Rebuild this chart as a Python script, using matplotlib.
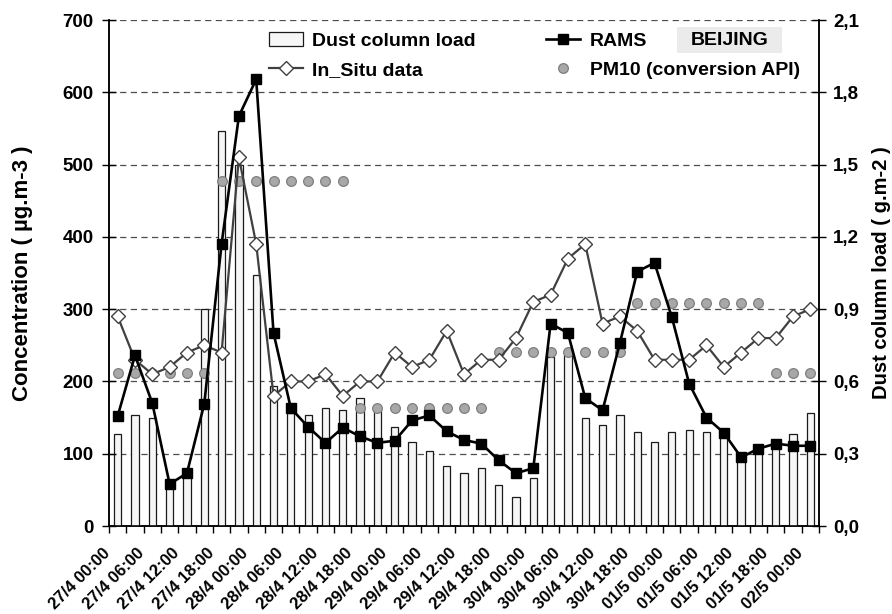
import numpy as np
import matplotlib
matplotlib.use("Agg")
import matplotlib.pyplot as plt
import matplotlib.transforms as mtransforms
from matplotlib.patches import Rectangle
from matplotlib.ticker import FuncFormatter, MultipleLocator

plt.rcParams['font.family'] = ['Liberation Sans', 'DejaVu Sans']
plt.rcParams['font.weight'] = 'bold'

# 3-hourly time steps, 27/4 00:00 -> 02/5 00:00
times = ["27/4 00:00", "27/4 03:00", "27/4 06:00", "27/4 09:00", "27/4 12:00", "27/4 15:00",
         "27/4 18:00", "27/4 21:00", "28/4 00:00", "28/4 03:00", "28/4 06:00", "28/4 09:00",
         "28/4 12:00", "28/4 15:00", "28/4 18:00", "28/4 21:00", "29/4 00:00", "29/4 03:00",
         "29/4 06:00", "29/4 09:00", "29/4 12:00", "29/4 15:00", "29/4 18:00", "29/4 21:00",
         "30/4 00:00", "30/4 03:00", "30/4 06:00", "30/4 09:00", "30/4 12:00", "30/4 15:00",
         "30/4 18:00", "30/4 21:00", "01/5 00:00", "01/5 03:00", "01/5 06:00", "01/5 09:00",
         "01/5 12:00", "01/5 15:00", "01/5 18:00", "01/5 21:00", "02/5 00:00"]

# dust column load (g.m-2), right axis
dust_load = [0.38, 0.46, 0.45, 0.18, 0.21, 0.90, 1.64, 1.50, 1.04, 0.58, 0.47, 0.46,
             0.49, 0.48, 0.53, 0.48, 0.41, 0.35, 0.31, 0.25, 0.22, 0.24, 0.17, 0.12,
             0.20, 0.70, 0.71, 0.45, 0.42, 0.46, 0.39, 0.35, 0.39, 0.40, 0.39, 0.38,
             0.29, 0.31, 0.34, 0.38, 0.47]

# concentrations (µg.m-3), left axis
rams = [152, 236, 170, 58, 73, 169, 390, 567, 618, 267, 163, 137,
        115, 136, 124, 115, 118, 146, 153, 131, 119, 114, 91, 73,
        80, 280, 267, 177, 160, 253, 352, 364, 289, 197, 150, 129,
        95, 107, 114, 111, 111]

in_situ = [290, 230, 210, 220, 240, 250, 240, 510, 390, 180, 200, 200,
           210, 180, 200, 200, 240, 220, 230, 270, 210, 230, 230, 260,
           310, 320, 370, 390, 280, 290, 270, 230, 230, 230, 250, 220,
           240, 260, 260, 290, 300]

pm10 = [212, 212, 212, 212, 212, 212, 477, 477, 477, 477, 477, 477,
        477, 477, 163, 163, 163, 163, 163, 163, 163, 163, 241, 241,
        241, 241, 241, 241, 241, 241, 309, 309, 309, 309, 309, 309,
        309, 309, 212, 212, 212]

x = np.arange(len(times))

fig = plt.figure(figsize=(8.92, 6.14), dpi=100)
ax = fig.add_axes([0.1222, 0.1433, 0.7960, 0.8241])
ax2 = ax.twinx()

# bars on the secondary axis, kept behind the lines
ax.set_zorder(2)
ax.patch.set_visible(False)
ax2.set_zorder(1)

bars = ax2.bar(x, dust_load, width=0.42, color='#f6f6f6', edgecolor='#1a1a1a',
               linewidth=0.9, label='Dust column load', zorder=3)
ax2.set_ylim(0, 2.1)
ax2.yaxis.set_major_locator(MultipleLocator(0.3))
ax2.yaxis.set_major_formatter(FuncFormatter(lambda v, p: f"{v:.1f}".replace('.', ',')))
ax2.grid(axis='y', linestyle=(0, (5, 3.5)), color='#4d4d4d', linewidth=0.9)
ax2.set_axisbelow(True)

l_insitu, = ax.plot(x, in_situ, color='#404040', linewidth=1.6, marker='D',
                    markersize=7.5, markerfacecolor='white', markeredgecolor='#404040',
                    markeredgewidth=1.0, label='In_Situ data', zorder=3)
l_rams, = ax.plot(x, rams, color='black', linewidth=1.9, marker='s', markersize=7.5,
                  markerfacecolor='black', markeredgecolor='black', label='RAMS', zorder=4)
l_pm10, = ax.plot(x, pm10, linestyle='none', marker='o', markersize=7,
                  markerfacecolor='#a8a8a8', markeredgecolor='#7f7f7f',
                  markeredgewidth=0.9, label='PM10 (conversion API)', zorder=2)

ax.set_ylim(0, 700)
ax.yaxis.set_major_locator(MultipleLocator(100))
ax.set_xlim(-0.5, len(times) - 0.5)

ax.set_xticks(x[::2])
ax.set_xticklabels(times[::2], rotation=45, ha='right', va='center',
                   rotation_mode='anchor', fontsize=12, fontweight='bold')
ax.set_xticks(np.arange(-0.5, len(times)), minor=True)
ax.tick_params(axis='x', which='major', length=0, pad=20)
ax.tick_params(axis='x', which='minor', length=5, width=1, direction='out')
ax.tick_params(axis='y', which='major', length=10, width=1, direction='inout',
               labelsize=13.5, pad=6)
ax2.tick_params(axis='y', which='major', length=10, width=1, direction='inout',
                labelsize=13.5, pad=5)
ax2.tick_params(axis='x', which='both', length=0)

# nudge the slanted labels a little left / up (after tick_params, which resets transforms)
shift = mtransforms.ScaledTranslation(-0.10, 0.03, fig.dpi_scale_trans)
for lab in ax.get_xticklabels():
    lab.set_transform(lab.get_transform() + shift)

for a in (ax, ax2):
    a.spines['top'].set_visible(False)
    for s in ('left', 'right', 'bottom'):
        a.spines[s].set_linewidth(1.1)

ax.set_ylabel('Concentration ( µg.m-3 )', fontsize=16, fontweight='bold', labelpad=21)
ax2.set_ylabel('Dust column load ( g.m-2 )', fontsize=14.5, fontweight='bold', labelpad=9.5)

leg = ax.legend([bars, l_insitu, l_rams, l_pm10],
                ['Dust column load', 'In_Situ data', 'RAMS', 'PM10 (conversion API)'],
                ncol=2, loc='upper left', bbox_to_anchor=(0.2, 1.01), frameon=False,
                prop={'size': 14, 'weight': 'bold'}, handlelength=1.75,
                handletextpad=0.5, columnspacing=3.6, labelspacing=0.57)

ax.add_patch(Rectangle((0.80, 0.935), 0.148, 0.0514, transform=ax.transAxes,
                       facecolor='#ebebeb', edgecolor='none', zorder=5))
ax.text(0.874, 0.9605, 'BEIJING', transform=ax.transAxes, ha='center', va='center',
        fontsize=14, fontweight='bold', zorder=6)

fig.savefig('out.png', dpi=100)
